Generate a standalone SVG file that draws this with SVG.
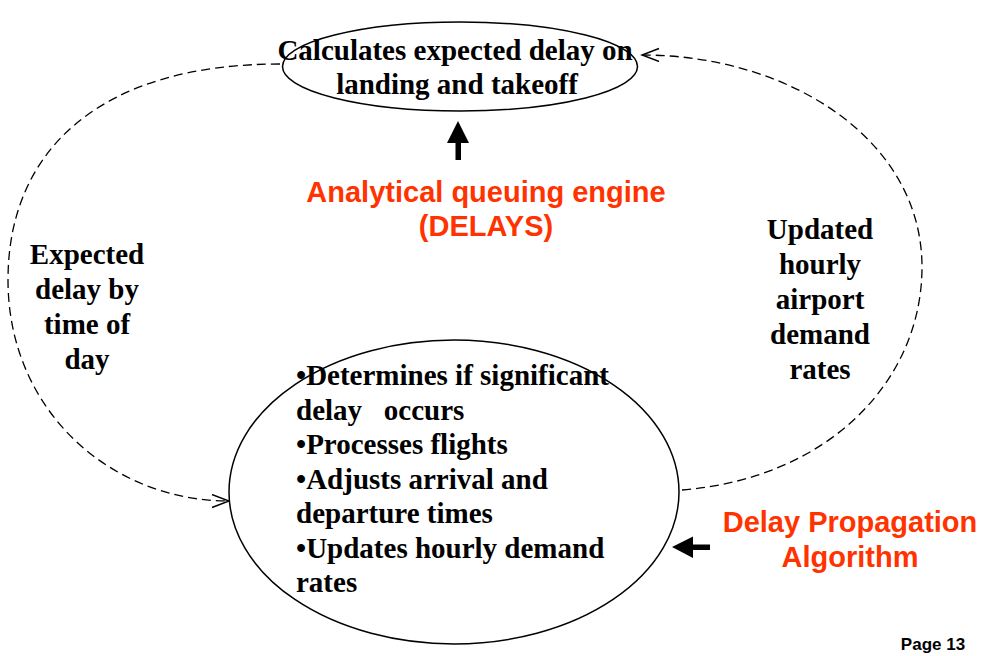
<svg xmlns="http://www.w3.org/2000/svg" width="988" height="656" viewBox="0 0 988 656">
<style>
.node{fill:#fff;stroke:#000;stroke-width:1.5}
.t{font-family:"Liberation Serif","Times New Roman",serif;font-weight:bold;font-size:29px;fill:#000}
.r{font-family:"Liberation Sans",Arial,sans-serif;font-weight:bold;font-size:29px;fill:#ff3300}
.dash{fill:none;stroke:#000;stroke-width:1.3;stroke-dasharray:9 5}
.solid{fill:#000}
</style>
<defs>
<marker id="open" markerUnits="userSpaceOnUse" markerWidth="20" markerHeight="16" refX="18" refY="7" orient="auto">
<path d="M1,0.5 L18,7 L1,13.5" fill="none" stroke="#000" stroke-width="1.4"/>
</marker>
</defs>
<rect width="988" height="656" fill="#fff"/>
<g id="connectors">
<path class="dash" d="M280,64 C100,64 8,150 8,280 C8,410 110,501 229,501" marker-end="url(#open)"/>
<path class="dash" d="M682,490 C830,478 922,380 922,267 C922,140 790,55 642,55" marker-end="url(#open)"/>
<polygon id="up-arrow" class="solid" points="458,121 469,143 461,143 461,160 455.5,160 455.5,143 447,143"/>
<polygon id="left-arrow" class="solid" points="672,547 693,536.5 693,544.5 710,544.5 710,550 693,550 693,558"/>
</g>
<g id="top-node">
<ellipse class="node" cx="460" cy="66.5" rx="177.5" ry="44.5"/>
<text class="t" text-anchor="middle" x="455" y="60">Calculates expected delay on</text>
<text class="t" text-anchor="middle" x="457" y="94">landing and takeoff</text>
</g>
<g id="bottom-node">
<ellipse class="node" cx="454" cy="492" rx="225" ry="152"/>
<text class="t" x="296" y="385">•Determines if significant</text>
<text class="t" x="296" y="420" style="white-space:pre">delay   occurs</text>
<text class="t" x="296" y="454">•Processes flights</text>
<text class="t" x="296" y="489">•Adjusts arrival and</text>
<text class="t" x="296" y="523">departure times</text>
<text class="t" x="296" y="558">•Updates hourly demand</text>
<text class="t" x="296" y="592">rates</text>
</g>
<g id="engine-label">
<text class="r" text-anchor="middle" x="486" y="202">Analytical queuing engine</text>
<text class="r" text-anchor="middle" x="486" y="236">(DELAYS)</text>
</g>
<g id="left-label">
<text class="t" text-anchor="middle" x="87" y="264">Expected</text>
<text class="t" text-anchor="middle" x="87" y="299">delay by</text>
<text class="t" text-anchor="middle" x="87" y="334">time of</text>
<text class="t" text-anchor="middle" x="87" y="369">day</text>
</g>
<g id="right-label">
<text class="t" text-anchor="middle" x="820" y="239">Updated</text>
<text class="t" text-anchor="middle" x="820" y="274">hourly</text>
<text class="t" text-anchor="middle" x="820" y="309">airport</text>
<text class="t" text-anchor="middle" x="820" y="344">demand</text>
<text class="t" text-anchor="middle" x="820" y="379">rates</text>
</g>
<g id="dpa-label">
<text class="r" text-anchor="middle" x="850" y="532">Delay Propagation</text>
<text class="r" text-anchor="middle" x="850" y="567">Algorithm</text>
</g>
<text x="933" y="650" text-anchor="middle" font-family="Liberation Sans, Arial, sans-serif" font-weight="bold" font-size="17" fill="#000">Page 13</text>
</svg>
